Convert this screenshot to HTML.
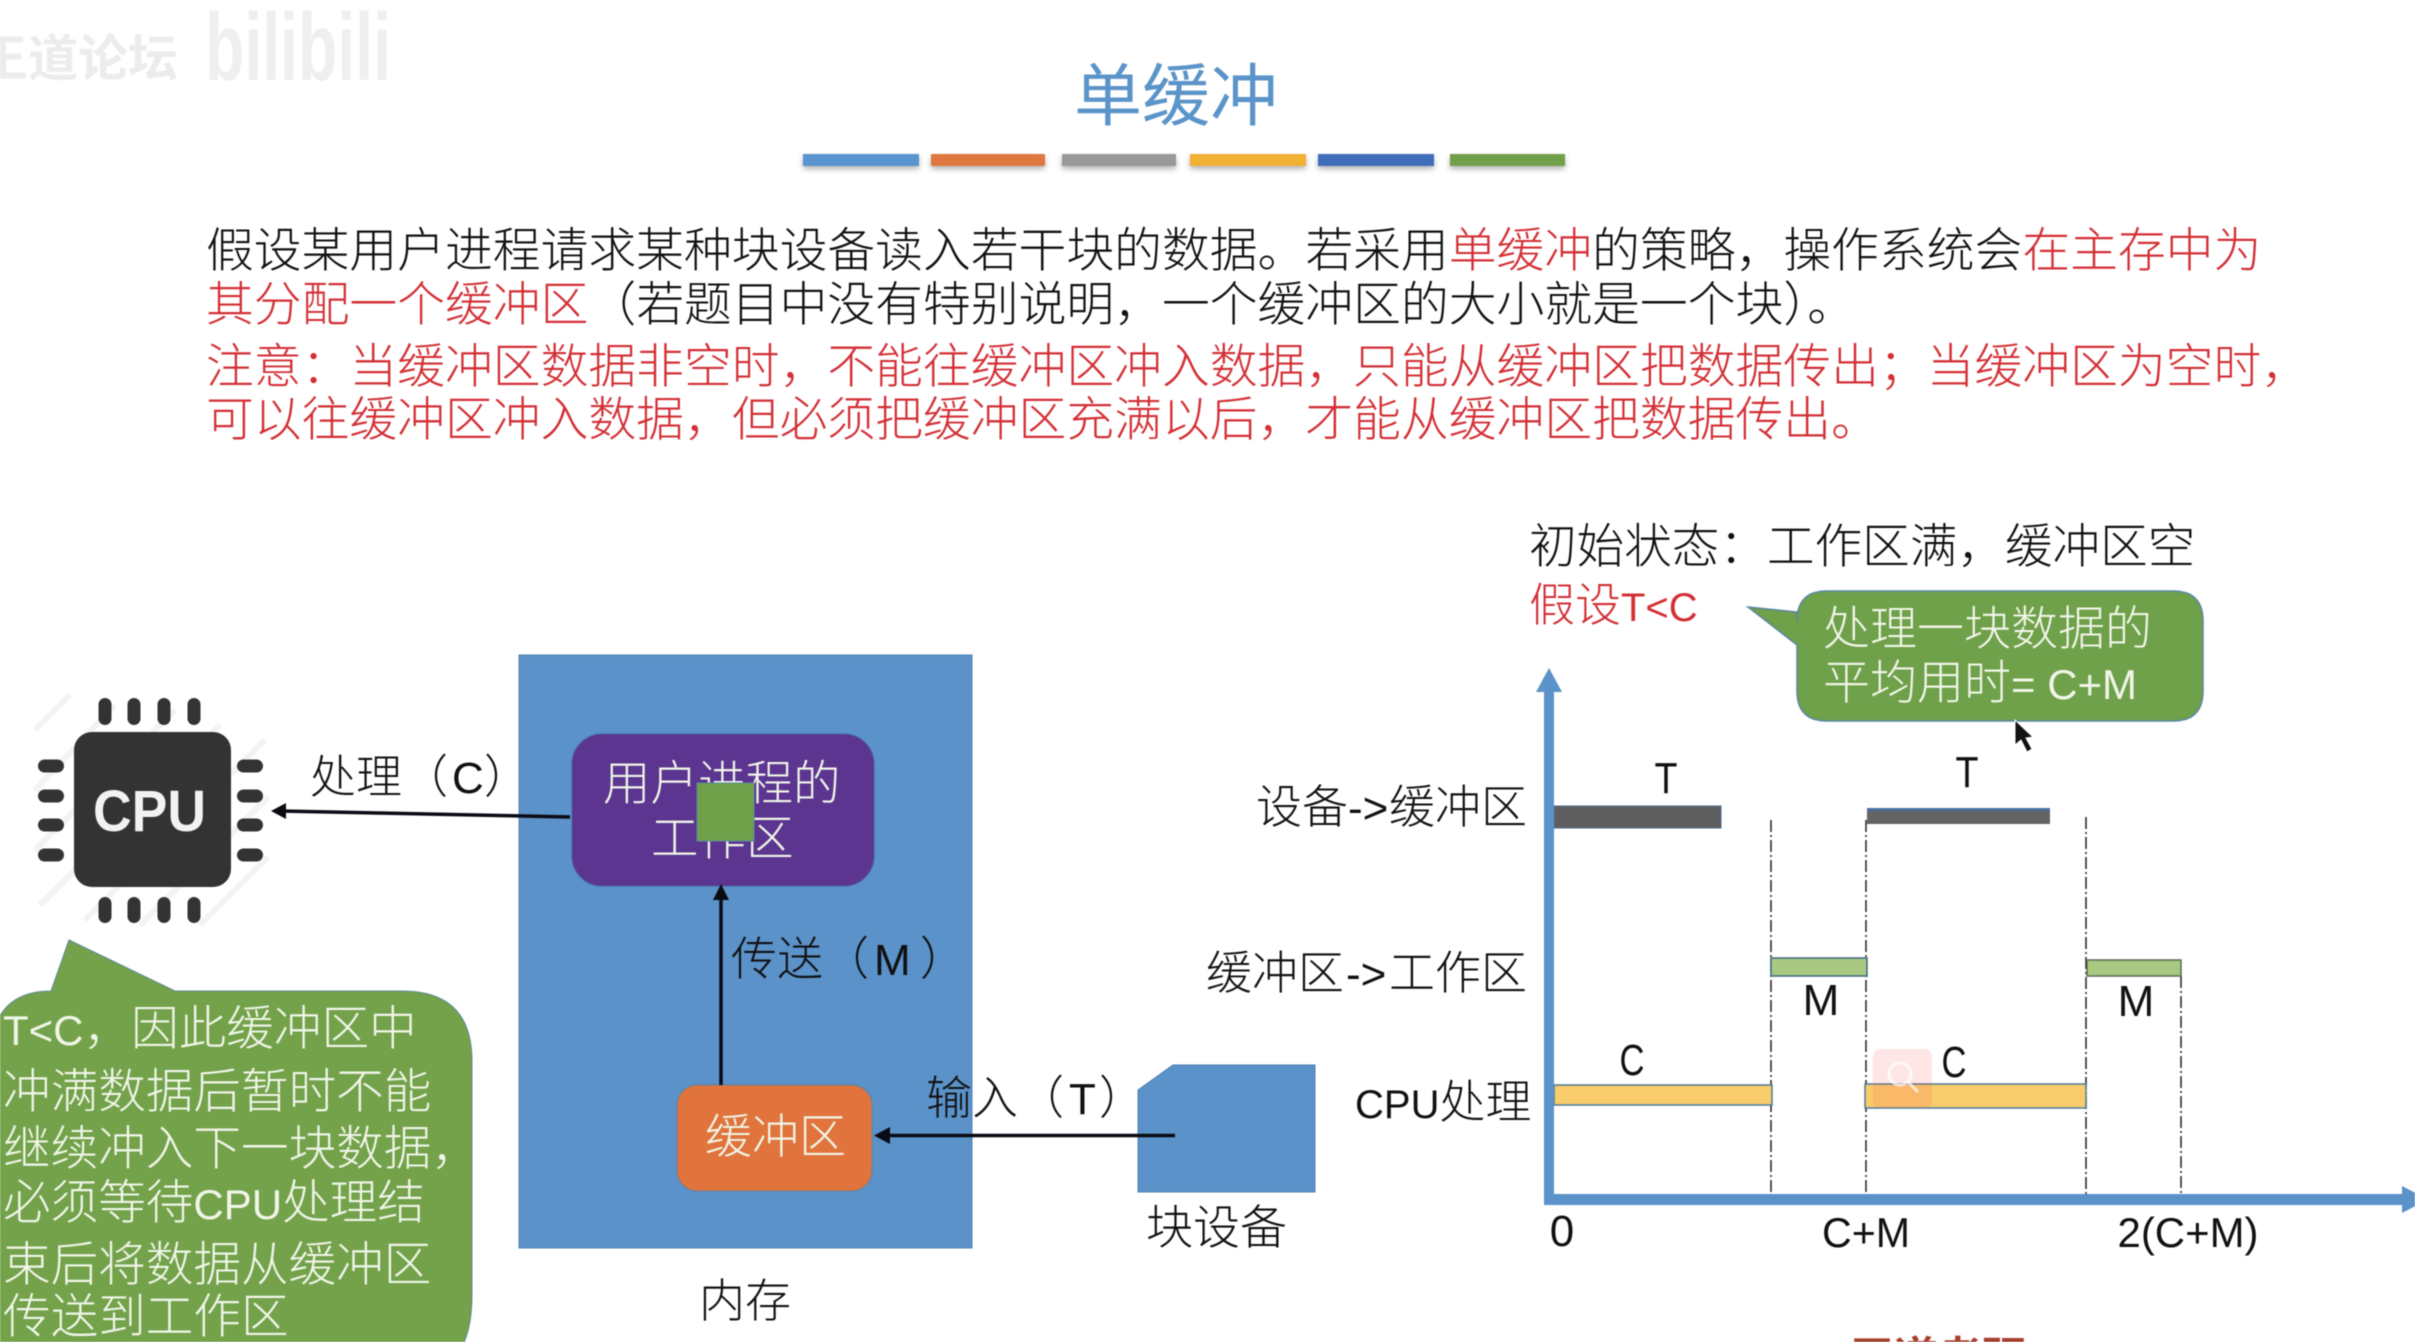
<!DOCTYPE html>
<html lang="zh-CN">
<head>
<meta charset="utf-8">
<title>单缓冲</title>
<style>
html,body{margin:0;padding:0;background:#fff;width:2415px;height:1342px;overflow:hidden}
svg{display:block;filter:blur(.6px)}
text{font-family:"Liberation Sans","Noto Sans CJK SC",sans-serif;font-weight:300}
.k{fill:#111}
.r{fill:#d32f35}
.w{fill:#f0f5e8}
</style>
</head>
<body>
<svg xmlns="http://www.w3.org/2000/svg" width="2415" height="1342" viewBox="0 0 2415 1342">
<defs>
<filter id="sh" x="-5%" y="-30%" width="110%" height="190%"><feDropShadow dx="0" dy="3" stdDeviation="3" flood-color="#000" flood-opacity=".3"/></filter>
</defs>
<rect width="2415" height="1342" fill="#fff"/>

<!-- watermark -->
<text x="-22" y="76" font-size="50" fill="#ececec" style="font-weight:700">王道论坛</text>
<text x="205" y="80" font-size="96" fill="#efefef" textLength="186" lengthAdjust="spacingAndGlyphs" style="font-weight:700">bilibili</text>

<!-- title -->
<text x="1074" y="120" font-size="68" fill="#5b94c9" style="font-weight:400">单缓冲</text>
<g filter="url(#sh)">
<rect x="803" y="154" width="116" height="12" fill="#5a95cf"/>
<rect x="931" y="154" width="114" height="12" fill="#e0773f"/>
<rect x="1062" y="154" width="114" height="12" fill="#999"/>
<rect x="1190" y="154" width="116" height="12" fill="#f2b035"/>
<rect x="1318" y="154" width="116" height="12" fill="#3f6db8"/>
<rect x="1450" y="154" width="115" height="12" fill="#6fa04a"/>
</g>

<!-- paragraph -->
<text x="206" y="267" font-size="47.8" class="k">假设某用户进程请求某种块设备读入若干块的数据。若采用<tspan class="r">单缓冲</tspan>的策略，操作系统会<tspan class="r">在主存中为</tspan></text>
<text x="206" y="321" font-size="47.8" class="k"><tspan class="r">其分配一个缓冲区</tspan>（若题目中没有特别说明，一个缓冲区的大小就是一个块）。</text>
<text x="206" y="383" font-size="47.8" class="r">注意：当缓冲区数据非空时，不能往缓冲区冲入数据，只能从缓冲区把数据传出；当缓冲区为空时，</text>
<text x="206" y="436" font-size="47.8" class="r">可以往缓冲区冲入数据，但必须把缓冲区充满以后，才能从缓冲区把数据传出。</text>

<!-- CPU icon -->
<g stroke="#f3f3f3" stroke-width="6" fill="none">
<path d="M35 730L70 695M35 790L115 705M35 850L175 710M40 905L220 725M85 920L265 740M140 925L268 797M200 925L268 857"/>
</g>
<g fill="#333">
<rect x="74" y="732" width="157" height="155" rx="18"/>
<rect x="98.500" y="698" width="13" height="27" rx="6.500"/><rect x="127.500" y="698" width="13" height="27" rx="6.500"/><rect x="157.500" y="698" width="13" height="27" rx="6.500"/><rect x="187.500" y="698" width="13" height="27" rx="6.500"/>
<rect x="98.500" y="897" width="13" height="26" rx="6.500"/><rect x="127.500" y="897" width="13" height="26" rx="6.500"/><rect x="157.500" y="897" width="13" height="26" rx="6.500"/><rect x="187.500" y="897" width="13" height="26" rx="6.500"/>
<rect x="38" y="759.500" width="26" height="13" rx="6.500"/><rect x="38" y="789.500" width="26" height="13" rx="6.500"/><rect x="38" y="818.500" width="26" height="13" rx="6.500"/><rect x="38" y="848.500" width="26" height="13" rx="6.500"/>
<rect x="237" y="759.500" width="26" height="13" rx="6.500"/><rect x="237" y="789.500" width="26" height="13" rx="6.500"/><rect x="237" y="818.500" width="26" height="13" rx="6.500"/><rect x="237" y="848.500" width="26" height="13" rx="6.500"/>
</g>
<text x="93" y="831" font-size="58" fill="#f2f2f2" textLength="113" lengthAdjust="spacingAndGlyphs" style="font-weight:700">CPU</text>

<!-- memory -->
<rect x="519" y="655" width="453" height="593" fill="#5a92c9" stroke="#4f83b8" stroke-width="1"/>
<rect x="572" y="734" width="302" height="152" rx="30" fill="#5b3590" stroke="#4d5fa0" stroke-width="1"/>
<text x="603" y="800" font-size="47.500" class="w">用户进程的</text>
<text x="651" y="855" font-size="47.500" class="w">工作区</text>
<rect x="697" y="783" width="57" height="58" fill="#6fa04a" stroke="#5a8a9a" stroke-width="1"/>

<rect x="677" y="1085" width="195" height="106" rx="20" fill="#e0743c" stroke="#6c7f95" stroke-width="1"/>
<text x="705" y="1153" font-size="47" class="w">缓冲区</text>

<!-- block device -->
<path d="M1138 1090L1173 1065H1315V1192H1138Z" fill="#5a92c9" stroke="#4f7fae" stroke-width="1"/>

<!-- arrows -->
<g stroke="#0b0b14" stroke-width="3.500" fill="none">
<path d="M570 817L280 811"/>
<path d="M721 1085V896"/>
<path d="M1175 1135.500H884"/>
</g>
<g fill="#0b0b14">
<path d="M271 811L286 803V819Z"/>
<path d="M721 884L713 900H729Z"/>
<path d="M874 1135.500L890 1127V1144Z"/>
</g>

<!-- labels -->
<text x="310" y="793" font-size="46" class="k">处理（<tspan x="452" font-size="44">C</tspan><tspan x="484">）</tspan></text>
<text x="731" y="975" font-size="46" class="k">传送（<tspan x="874" font-size="44">M</tspan><tspan x="920">）</tspan></text>
<text x="926" y="1114" font-size="46" class="k">输入（<tspan x="1069" font-size="44">T</tspan><tspan x="1099">）</tspan></text>
<text x="1146" y="1244" font-size="47" class="k">块设备</text>
<text x="699" y="1317" font-size="46" class="k">内存</text>

<!-- left callout -->
<path d="M-10 1061Q-10 991 51 991L69 940L175 991H402Q472 991 472 1061V1295Q472 1381 400 1381H-10Z" fill="#73a24b" stroke="#5f8a9a" stroke-width="1"/>
<g font-size="47.600" class="w">
<text x="3" y="1045"><tspan font-size="42">T&lt;C</tspan>，因此缓冲区中</text>
<text x="3" y="1108">冲满数据后暂时不能</text>
<text x="3" y="1165">继续冲入下一块数据，</text>
<text x="3" y="1219">必须等待<tspan font-size="42">CPU</tspan>处理结</text>
<text x="3" y="1281">束后将数据从缓冲区</text>
<text x="3" y="1333">传送到工作区</text>
</g>

<!-- right heading -->
<text x="1529" y="563" font-size="47.600" class="k">初始状态：工作区满，缓冲区空</text>
<text x="1529" y="621" font-size="46" class="r">假设<tspan font-size="40">T&lt;C</tspan></text>

<!-- right callout -->
<path d="M1827 591H2173Q2203 591 2203 621V691Q2203 721 2173 721H1827Q1797 721 1797 691V645L1748 607L1797 612V621Q1797 591 1827 591Z" fill="#6fa04a" stroke="#5a87a5" stroke-width="1.500"/>
<text x="1823" y="645" font-size="47" class="w">处理一块数据的</text>
<text x="1823" y="699" font-size="47" class="w">平均用时<tspan font-size="42">= C+M</tspan></text>

<!-- cursor -->
<path d="M2015 720V745L2021 740L2027 752L2032 749L2026 738L2033 737Z" fill="#111" stroke="#fff" stroke-width="1"/>

<!-- dashed guides -->
<g stroke="#222" stroke-width="1.500" fill="none" stroke-dasharray="12 3 2 3">
<path d="M1771 820V1196"/>
<path d="M1866 820V1196"/>
<path d="M2086 817V1196"/>
<path d="M2181 976V1196"/>
</g>

<!-- bars -->
<rect x="1554" y="806" width="167" height="22" fill="#5f5f5f" stroke="#4c6a8c" stroke-width="1"/>
<rect x="1867" y="808" width="183" height="16" fill="#646464"/>
<rect x="1867" y="808" width="183" height="3" fill="#4a6f9e"/>
<rect x="1771" y="958" width="96" height="18" fill="#a9c882" stroke="#3d6b80" stroke-width="1.500"/>
<rect x="2087" y="960" width="94" height="16" fill="#a9c882" stroke="#5b6b55" stroke-width="1.500"/>
<rect x="1554" y="1085" width="218" height="20" fill="#f8cb6b" stroke="#4d7d9a" stroke-width="1.500"/>
<rect x="1865" y="1084" width="221" height="24" fill="#f8cb6b" stroke="#4d7d9a" stroke-width="1.500"/>

<!-- magnifier overlay -->
<rect x="1873" y="1049" width="59" height="59" rx="7" fill="#ff5a5a" fill-opacity=".15"/>
<circle cx="1900" cy="1074" r="11" fill="none" stroke="#fff" stroke-opacity=".7" stroke-width="3"/>
<path d="M1908 1082L1918 1092" stroke="#fff" stroke-opacity=".7" stroke-width="3"/>

<!-- axes -->
<rect x="1544" y="688" width="10" height="517" fill="#5a92c9"/>
<path d="M1549 668L1562 692H1536Z" fill="#5a92c9"/>
<rect x="1544" y="1194" width="858" height="11" fill="#5a92c9"/>
<path d="M2402 1186L2428 1199.500L2402 1213Z" fill="#5a92c9"/>

<!-- y labels -->
<text x="1256" y="823" font-size="46" class="k">设备<tspan font-size="44">-&gt;</tspan><tspan x="1389">缓冲区</tspan></text>
<text x="1206" y="989" font-size="46" class="k">缓冲区<tspan x="1346" font-size="44">-&gt;</tspan><tspan x="1389">工作区</tspan></text>
<text x="1355" y="1118" font-size="46" class="k"><tspan font-size="40">CPU</tspan>处理</text>

<!-- bar labels -->
<g font-size="44" class="k" text-anchor="middle">
<text x="1666" y="793" textLength="23" lengthAdjust="spacingAndGlyphs">T</text>
<text x="1967" y="787" textLength="23" lengthAdjust="spacingAndGlyphs">T</text>
<text x="1821" y="1015">M</text>
<text x="2136" y="1016">M</text>
<text x="1632" y="1075" textLength="25" lengthAdjust="spacingAndGlyphs">C</text>
<text x="1954" y="1077" textLength="25" lengthAdjust="spacingAndGlyphs">C</text>
<text x="1562" y="1246">0</text>
<text x="1866" y="1247" font-size="42" textLength="88" lengthAdjust="spacingAndGlyphs">C+M</text>
<text x="2188" y="1247" font-size="42" textLength="141" lengthAdjust="spacingAndGlyphs">2(C+M)</text>
</g>

<!-- cropped footer -->
<text x="1850" y="1373" font-size="44" fill="#a8402f" style="font-weight:700">王道考研 <tspan fill="#cfcfcf">CSKAOYAN.COM</tspan></text>
</svg>
</body>
</html>
